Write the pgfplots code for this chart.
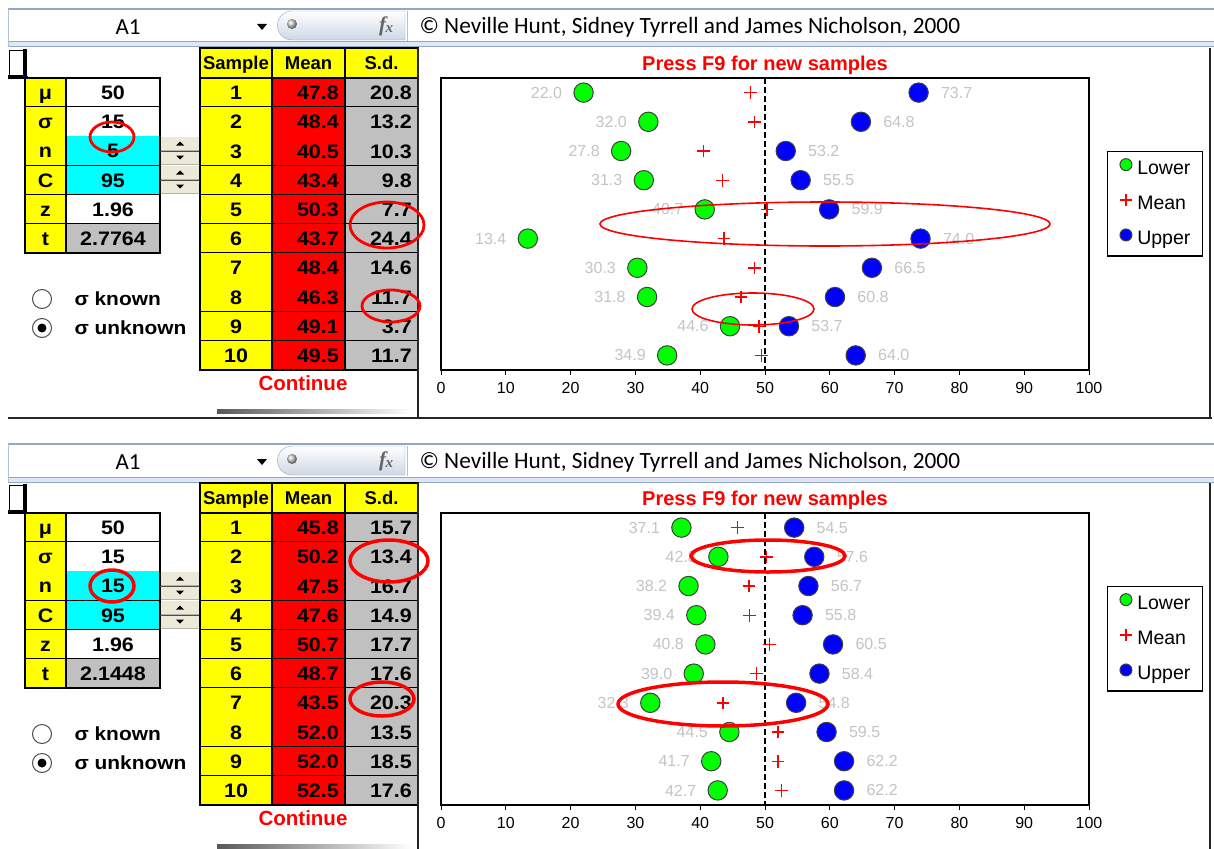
\documentclass[border=0pt]{standalone}
\usepackage{pgfplots}
\pgfplotsset{compat=1.18}
\usepackage{pgfplotstable}
\usepackage{fontspec}
\setmainfont{Liberation Sans}
\newfontfamily\calibri{Carlito}
\newfontfamily\tnr{Liberation Serif}
\newfontfamily\xl[FakeStretch=1.1]{Liberation Sans}

\definecolor{xlyellow}{RGB}{255,255,0}
\definecolor{xlred}{RGB}{255,0,0}
\definecolor{xlgray}{RGB}{192,192,192}
\definecolor{xlcyan}{RGB}{0,255,255}
\definecolor{ptgreen}{RGB}{0,255,0}
\definecolor{ptblue}{RGB}{0,0,255}
\definecolor{lblgray}{RGB}{196,196,196}
\definecolor{barblue}{RGB}{145,167,198}
\definecolor{barfill}{RGB}{222,231,243}
\definecolor{btn}{RGB}{236,233,216}

\newcommand\ft[1]{\fontsize{#1pt}{#1pt}\selectfont}

% lower limit, mean, upper limit of each sample
\pgfplotstableread{
s  lo   mean up
1  22.0 47.8 73.7
2  32.0 48.4 64.8
3  27.8 40.5 53.2
4  31.3 43.4 55.5
5  40.7 50.3 59.9
6  13.4 43.7 74.0
7  30.3 48.4 66.5
8  31.8 46.3 60.8
9  44.6 49.1 53.7
10 34.9 49.5 64.0
}\toptab

\pgfplotstableread{
s  lo   mean up
1  37.1 45.8 54.5
2  42.8 50.2 57.6
3  38.2 47.5 56.7
4  39.4 47.6 55.8
5  40.8 50.7 60.5
6  39.0 48.7 58.4
7  32.3 43.5 54.8
8  44.5 52.0 59.5
9  41.7 52.0 62.2
10 42.7 52.5 62.2
}\bottab

\pgfplotsset{
  ciaxis/.style={
    scale only axis, width=648pt, height=292pt, anchor=north west,
    xmin=0, xmax=100, ymin=0.5, ymax=10.5, y dir=reverse,
    xtick={0,10,...,100}, ytick=\empty, xtick pos=bottom, xtick align=outside,
    major tick length=5pt,
    axis line style={black, line width=1.3pt},
    every tick/.style={black, line width=1pt},
    tick label style={font=\ft{16}},
    xticklabel style={yshift=-4pt},
    /pgf/number format/assume math mode=true,
    clip=false,
    title={Press F9 for new samples},
    title style={font=\bfseries\ft{20}, text=xlred, at={(0.5,1)}, anchor=south, inner sep=0pt, yshift=-2.5pt},
    legend style={at={(1.02778,0.75)}, anchor=north west, font=\ft{19.5},
      draw=black, line width=1.3pt, inner xsep=12pt, inner ysep=7pt,
      row sep=15pt, column sep=5pt,
      nodes={inner sep=0pt, text height=14pt, text depth=4pt}},
    legend cell align=left,
    legend image code/.code={\draw[##1] plot coordinates {(0pt,5pt)};},
  },
  lowerplot/.style={only marks, mark=*, mark size=9.7pt,
    mark options={draw=black!75, fill=ptgreen, line width=1pt},
    nodes near coords, point meta=explicit symbolic,
    every node near coord/.append style={anchor=east, xshift=-21pt, inner sep=0pt, text=lblgray, font=\ft{16}},
    legend image post style={mark size=6pt}},
  upperplot/.style={only marks, mark=*, mark size=9.7pt,
    mark options={draw=black!75, fill=ptblue, line width=1pt},
    nodes near coords, point meta=explicit symbolic,
    every node near coord/.append style={anchor=west, xshift=22pt, inner sep=0pt, text=lblgray, font=\ft{16}},
    legend image post style={mark size=6pt}},
  meanplot/.style={only marks, mark=+, mark size=6.3pt, xlred, line width=1.4pt},
  dashline/.style={black, line width=2.5pt, dash pattern=on 6pt off 3pt, forget plot},
}

\tikzset{cell/.style={font=\xl\bfseries\ft{19.5}, text height=14pt, text depth=0pt, inner sep=0pt},
  head/.style={font=\bfseries\ft{18.5}, text height=13.3pt, text depth=0pt, inner sep=0pt}}

% #1 n, #2 t, #3 sample/mean/sd rows
\newcommand\panel[3]{%
  % formula bar
  \fill[white] (8,9) rectangle (1214,42);
  \draw[barblue, line width=1.2pt] (8,9) -- (1214,9);
  \fill[barfill] (8,42) rectangle (1214,47);
  \draw[barblue, line width=1pt] (8,42) -- (1214,42) (8,47) -- (1214,47);
  \draw[barblue!70] (8,9) -- (8,47);
  \node[font=\calibri\ft{23}] at (128,27) {A1};
  \fill (257,24) -- (267,24) -- (262,30) -- cycle;
  \shade[top color=white, bottom color=barblue!45, draw=barblue]
    (405,11) -- (292,11) arc[start angle=270, end angle=90, radius=14.5] -- (405,40) -- cycle;
  \shade[ball color=gray!40] (292,24) circle (5);
  \node[font=\tnr\bfseries\itshape\ft{21}, text=black!60] at (386,26) {f\kern-0.5pt\raisebox{-1pt}{\ft{15}x}};
  \draw[gray!50] (407,11) -- (407,41);
  \node[anchor=west, font=\calibri\ft{23.3}] at (416,27) {© Neville Hunt, Sidney Tyrrell and James Nicholson, 2000};
  % cell cursor
  \draw[black, line width=0.8pt] (9,50) -- (25,50);
  \draw[black, line width=0.8pt] (9,50) -- (9,77);
  \draw[black, line width=3.2pt] (25,49) -- (25,77) -- (8,77);
  \fill[blue] (24.5,76.5) rectangle (28,80);
  % parameter table
  \foreach \lab/\val/\col [count=\k from 0] in {μ/50/white, σ/15/white, n/#1/xlcyan, C/95/xlcyan, z/1.96/white, t/#2/xlgray} {
    \pgfmathsetmacro\ya{78+\k*29.17}
    \pgfmathsetmacro\yb{\ya+29.17}
    \fill[xlyellow] (25,\ya) rectangle (66,\yb);
    \fill[\col] (66,\ya) rectangle (160,\yb);
    \node[cell] at (45.5,{(\ya+\yb)/2}) {\lab};
    \node[cell] at (113,{(\ya+\yb)/2}) {\val};
    \draw[line width=1.5pt] (25,\yb) -- (160,\yb);
  }
  \draw[line width=1.5pt] (25,78) rectangle (160,253) (66,78) -- (66,253);
  % spinners
  \foreach \yy in {137,151,166,180} {
    \fill[btn] (161,\yy) rectangle (199,\yy+13);
    \draw[black!30] (161,\yy+13) -- (199,\yy+13) -- (199,\yy);
  }
  \foreach \yy in {137,166} {
    \fill (176,\yy+8.5) -- (184,\yy+8.5) -- (180,\yy+4.5) -- cycle;
    \fill (176,\yy+18.5) -- (184,\yy+18.5) -- (180,\yy+22.5) -- cycle;
    \draw[black!70, line width=1pt] (160,\yy+14) -- (200,\yy+14);
  }
  % sigma known / unknown
  \draw[black!70, fill=white, line width=1pt] (42,299) circle (9.5);
  \draw[black!70, fill=white, line width=1pt] (42,328) circle (9.5);
  \fill (42,328) circle (4.5);
  \node[anchor=west, font=\xl\bfseries\ft{19}] at (71,299) {σ known};
  \node[anchor=west, font=\xl\bfseries\ft{19}] at (71,328) {σ unknown};
  % samples table
  \fill[xlyellow] (200,48) rectangle (418,78);
  \node[head] at (236,63) {Sample};
  \node[head] at (308.5,63) {Mean};
  \node[head] at (381.5,63) {S.d.};
  \foreach \i/\m/\s in {#3} {
    \pgfmathsetmacro\ya{78+(\i-1)*29.2}
    \pgfmathsetmacro\yb{\ya+29.2}
    \fill[xlyellow] (200,\ya) rectangle (272,\yb);
    \fill[xlred] (272,\ya) rectangle (345,\yb);
    \fill[xlgray] (345,\ya) rectangle (418,\yb);
    \node[cell] at (236,{(\ya+\yb)/2}) {\i};
    \node[cell, anchor=east] at (339,{(\ya+\yb)/2}) {\m};
    \node[cell, anchor=east] at (412,{(\ya+\yb)/2}) {\s};
    \draw[line width=1.5pt] (200,\yb) -- (418,\yb);
  }
  \draw[line width=1.5pt] (200,48) rectangle (418,370) (200,78) -- (418,78)
    (272,48) -- (272,370) (345,48) -- (345,370);
  \node[font=\bfseries\ft{20.5}, text=xlred] at (303,383) {Continue};
  \shade[left color=black!65, right color=white] (217,409) rectangle (412,413);
  % chart area frame
  \draw[black!85, line width=1.2pt] (418,48) -- (418,418) (1210,48) -- (1210,418);
}

\begin{document}
\begin{tikzpicture}
\useasboundingbox (0,0) rectangle (1214pt,-848pt);
\fill[white] (0,0) rectangle (1214pt,-848pt);

\begin{scope}[x=1pt,y=-1pt]
  \panel{5}{2.7764}{1/47.8/20.8, 2/48.4/13.2, 3/40.5/10.3, 4/43.4/9.8, 5/50.3/7.7,
    6/43.7/24.4, 7/48.4/14.6, 8/46.3/11.7, 9/49.1/3.7, 10/49.5/11.7}
  \draw[black!85, line width=1.2pt] (8,418) -- (1212,418);
\end{scope}
\begin{scope}[x=1pt,y=-1pt,yshift=-435pt]
  \panel{15}{2.1448}{1/45.8/15.7, 2/50.2/13.4, 3/47.5/16.7, 4/47.6/14.9, 5/50.7/17.7,
    6/48.7/17.6, 7/43.5/20.3, 8/52.0/13.5, 9/52.0/18.5, 10/52.5/17.6}
\end{scope}

\begin{axis}[ciaxis, at={(441pt,-78pt)}]
  \addplot[dashline] coordinates {(50,0.5) (50,10.5)};
  \addplot[lowerplot] table[x=lo, y=s, meta=lo] {\toptab};
  \addplot[meanplot] table[x=mean, y=s] {\toptab};
  \addplot[upperplot] table[x=up, y=s, meta=up] {\toptab};
  \legend{Lower,Mean,Upper}
\end{axis}

\begin{axis}[ciaxis, at={(441pt,-513pt)}]
  \addplot[dashline] coordinates {(50,0.5) (50,10.5)};
  \addplot[lowerplot] table[x=lo, y=s, meta=lo] {\bottab};
  \addplot[meanplot] table[x=mean, y=s] {\bottab};
  \addplot[upperplot] table[x=up, y=s, meta=up] {\bottab};
  \legend{Lower,Mean,Upper}
\end{axis}

% red rings drawn over the screenshot
\begin{scope}[x=1pt,y=-1pt,red]
  \draw[line width=1.6pt] (825,224) ellipse [x radius=225, y radius=22];
  \draw[line width=1.6pt] (753,309) ellipse [x radius=61, y radius=16];
  \draw[line width=2.8pt] (112,137) ellipse [x radius=22, y radius=15];
  \draw[line width=2.8pt] (387,225) ellipse [x radius=37, y radius=23];
  \draw[line width=2.8pt] (391,306) ellipse [x radius=29, y radius=16];
  \draw[line width=3.5pt] (112,586) ellipse [x radius=22, y radius=16];
  \draw[line width=3.5pt] (389,561) ellipse [x radius=39, y radius=21];
  \draw[line width=3.5pt] (382,699) ellipse [x radius=32, y radius=17];
  \draw[line width=3.5pt] (768,556) ellipse [x radius=77, y radius=16];
  \draw[line width=3.5pt] (723,704) ellipse [x radius=105, y radius=22];
\end{scope}
\end{tikzpicture}
\end{document}
